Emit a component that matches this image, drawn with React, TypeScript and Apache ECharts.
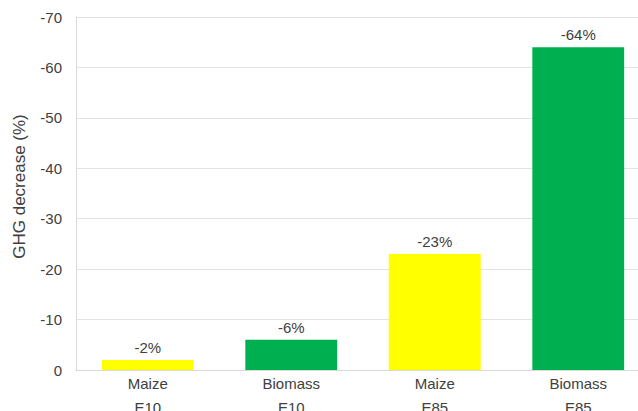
import React, { useEffect, useRef } from "react";
import * as echarts from "echarts";

const categories = ["Maize\nE10", "Biomass\nE10", "Maize\nE85", "Biomass\nE85"];
const values = [-2, -6, -23, -64];
const barColors = ["#FFFF00", "#00B050", "#FFFF00", "#00B050"];
const labels = ["-2%", "-6%", "-23%", "-64%"];

export default function App() {
  const ref = useRef<HTMLDivElement>(null);
  useEffect(() => {
    if (!ref.current) return;
    const chart = echarts.init(ref.current, undefined, { renderer: "svg" });
    chart.setOption({
      animation: false,
      textStyle: { fontFamily: "Liberation Sans, Arial, sans-serif" },
      grid: { left: 76, right: -12, top: 17, bottom: 41, outerBoundsMode: "none", containLabel: false },
      xAxis: {
        type: "category",
        data: categories,
        axisLine: { show: true, lineStyle: { color: "#d9d9d9", width: 1 } },
        axisTick: { show: false },
        axisLabel: {
          color: "#404040",
          fontSize: 15,
          lineHeight: 24,
          margin: 1,
          interval: 0,
        },
      },
      yAxis: {
        type: "value",
        inverse: true,
        min: -70,
        max: 0,
        interval: 10,
        name: "GHG decrease (%)",
        nameLocation: "middle",
        nameGap: 48,
        nameTextStyle: { color: "#404040", fontSize: 17, padding: [0, 0, 0, 14] },
        axisLine: { show: true, lineStyle: { color: "#d9d9d9", width: 1 } },
        axisTick: { show: false },
        axisLabel: { color: "#404040", fontSize: 15, margin: 14 },
        splitLine: { show: true, lineStyle: { color: "#e3e3e3", width: 1 } },
      },
      series: [
        {
          type: "bar",
          barWidth: "64%",
          data: values.map((v, i) => ({
            value: v,
            itemStyle: { color: barColors[i] },
            label: { formatter: labels[i] },
          })),
          label: {
            show: true,
            position: "top",
            distance: 5,
            color: "#404040",
            fontSize: 15,
          },
        },
      ],
    });
    return () => chart.dispose();
  }, []);
  return (
    <div
      ref={ref}
      style={{ position: "absolute", left: 0, top: 0, width: 638, height: 411, background: "#fff" }}
    />
  );
}
